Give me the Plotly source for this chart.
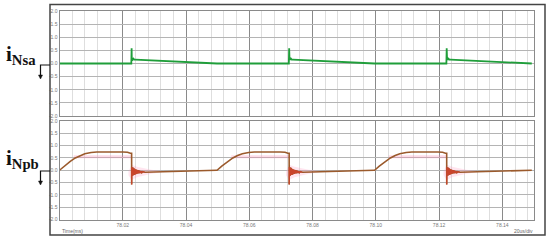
import plotly.graph_objects as go

# ---------------- data ----------------
# start of each switching cycle (ms)
cycle_start = [78.0000, 78.0498, 78.0996]

# iNpb: one cycle, time offsets (ms) from cycle start and values (A)
npb_dt = [0.0, 0.0015, 0.0034, 0.0050, 0.0065, 0.0080, 0.0100, 0.0118,
          0.0200, 0.0215, 0.0224, 0.02280, 0.02281]
npb_val = [0.0, 0.17, 0.36, 0.50, 0.60, 0.67, 0.72, 0.74,
           0.74, 0.73, 0.69, 0.69, -0.58]
# ringing right after the turn-off edge
ring_dt = [0.02285, 0.02295, 0.02305, 0.02315, 0.02325, 0.02335, 0.02345, 0.02355,
           0.02365, 0.02375, 0.02390, 0.02405, 0.02420, 0.02435, 0.02450, 0.02470,
           0.02490, 0.02510, 0.02530, 0.02550, 0.02575, 0.02600, 0.02630, 0.02660]
ring_val = [0.10, -0.24, 0.09, -0.22, 0.08, -0.21, 0.07, -0.19,
            0.06, -0.18, 0.04, -0.16, 0.03, -0.15, 0.01, -0.13,
            0.00, -0.12, -0.02, -0.11, -0.04, -0.10, -0.06, -0.08]
tail_dt = [0.0270, 0.0497]
tail_val = [-0.08, 0.0]

# iNsa: one cycle
nsa_dt = [0.0, 0.0227, 0.0228, 0.02285, 0.0229, 0.0230, 0.0231, 0.0232,
          0.0234, 0.0236, 0.0240, 0.0470, 0.0497]
nsa_val = [0.0, 0.0, 0.58, 0.12, 0.24, 0.13, 0.21, 0.14,
           0.18, 0.15, 0.15, 0.0, 0.0]

# faint pink trace / glow in the lower channel
halo_dt = [0.0045, 0.0228]
halo_val = [0.55, 0.55]
glow_dt = [0.0218, 0.0228, 0.0245, 0.0290, 0.0340, 0.0290, 0.0245, 0.0228, 0.0218]
glow_val = [-0.05, 0.22, 0.14, 0.02, -0.05, -0.14, -0.28, -0.40, -0.20]

x_ticks = [78.02, 78.04, 78.06, 78.08, 78.10, 78.12, 78.14]
x_ticktext = ["78.02", "78.04", "78.06", "78.08", "78.10", "78.12", "78.14"]
y_ticks = [2.0, 1.5, 1.0, 0.5, 0.0, -0.5, -1.0, -1.5, -2.0]
y_ticktext = ["2.0", "1.5", "1.0", "0.5", "0.0", "-0.5", "-1.0", "-1.5", "-2.0"]

# ---------------- build series ----------------
def build(dt, val):
    xs, ys = [], []
    for s in cycle_start:
        xs += [s + d for d in dt]
        ys += list(val)
    return xs, ys

npb_x, npb_y = build(npb_dt + ring_dt + tail_dt, npb_val + ring_val + tail_val)
ringx, ringy = [], []
for s in cycle_start:
    ringx += [s + d for d in [0.02281] + ring_dt + [0.0270]] + [None]
    ringy += [-0.58] + ring_val + [-0.08] + [None]
nsa_x, nsa_y = build(nsa_dt, nsa_val)
halo_x, halo_y, glow_x, glow_y = [], [], [], []
for s in cycle_start:
    halo_x += [s + d for d in halo_dt] + [None]
    halo_y += halo_val + [None]
    glow_x += [s + d for d in glow_dt] + [None]
    glow_y += glow_val + [None]

W, H = 550, 242
fx = lambda x: x / W
fy = lambda y: 1 - y / H

fig = go.Figure()
fig.add_trace(go.Scatter(x=nsa_x, y=nsa_y, mode="lines",
                         line=dict(color="#1f9e3a", width=1.8),
                         xaxis="x", yaxis="y", showlegend=False))
fig.add_trace(go.Scatter(x=glow_x, y=glow_y, mode="lines", fill="toself",
                         fillcolor="rgba(255,150,190,0.25)",
                         line=dict(color="rgba(255,150,190,0.0)", width=0),
                         xaxis="x2", yaxis="y2", showlegend=False))
fig.add_trace(go.Scatter(x=halo_x, y=halo_y, mode="lines",
                         line=dict(color="rgba(255,140,180,0.30)", width=3),
                         xaxis="x2", yaxis="y2", showlegend=False))
fig.add_trace(go.Scatter(x=npb_x, y=npb_y, mode="lines",
                         line=dict(color="#9b5a2c", width=1.6),
                         xaxis="x2", yaxis="y2", showlegend=False))
fig.add_trace(go.Scatter(x=ringx, y=ringy, mode="lines",
                         line=dict(color="#c9452c", width=1.2),
                         xaxis="x2", yaxis="y2", showlegend=False))

xdom = [fx(59.5), fx(534)]
tickfont = dict(family="Liberation Sans", size=5, color="#777")
common_x = dict(range=[78.0, 78.15], domain=xdom, tickmode="array",
                tickvals=x_ticks, ticktext=x_ticktext, automargin=False,
                showgrid=True, gridcolor="#8a8a8a", gridwidth=1,
                minor=dict(dtick=0.004, tick0=78.0, showgrid=True,
                           gridcolor="#dedede", gridwidth=1),
                showline=True, mirror=True, linecolor="#8a8a8a", linewidth=1,
                zeroline=False, ticks="", tickfont=tickfont, ticklen=0)
common_y = dict(range=[-2.0, 2.0], tickmode="array", tickvals=y_ticks,
                ticktext=y_ticktext, showgrid=True, gridcolor="#b4b4b4",
                gridwidth=1, showline=True, mirror=True, linecolor="#8a8a8a",
                linewidth=1, zeroline=False, ticks="", tickfont=tickfont,
                automargin=False)

fig.update_layout(
    width=W, height=H, autosize=False,
    margin=dict(l=0, r=0, t=0, b=0, pad=0),
    paper_bgcolor="white", plot_bgcolor="white",
    xaxis=dict(common_x, anchor="y", showticklabels=False),
    yaxis=dict(common_y, domain=[fy(116), fy(11)], anchor="x"),
    xaxis2=dict(common_x, anchor="y2", showticklabels=True),
    yaxis2=dict(common_y, domain=[fy(219.5), fy(121)], anchor="x2"),
)

shapes = [
    dict(type="rect", xref="paper", yref="paper", x0=fx(50), x1=fx(545),
         y0=fy(235), y1=fy(4.5), line=dict(color="#444", width=1.5)),
]
# arrows beside the labels
for y0, y1 in [(65, 77), (171, 183)]:
    shapes.append(dict(type="path", xref="paper", yref="paper",
                       path=f"M {fx(50)},{fy(y0)} L {fx(40.5)},{fy(y0)} L {fx(40.5)},{fy(y1)}",
                       line=dict(color="#111", width=1.2)))
    shapes.append(dict(type="path", xref="paper", yref="paper",
                       path=f"M {fx(38.5)},{fy(y1-2)} L {fx(42.5)},{fy(y1-2)} L {fx(40.5)},{fy(y1+2)} Z",
                       fillcolor="#111", line=dict(color="#111", width=0.5)))
fig.update_layout(shapes=shapes)

lab_font = dict(family="Liberation Serif", size=21, color="#111")
fig.add_annotation(xref="paper", yref="paper", x=fx(4), y=fy(55),
                   xanchor="left", yanchor="middle", showarrow=False,
                   text="<b>i<sub>Nsa</sub></b>", font=lab_font)
fig.add_annotation(xref="paper", yref="paper", x=fx(4), y=fy(159),
                   xanchor="left", yanchor="middle", showarrow=False,
                   text="<b>i<sub>Npb</sub></b>", font=lab_font)
small = dict(family="Liberation Sans", size=5, color="#666")
fig.add_annotation(xref="paper", yref="paper", x=fx(60), y=fy(231),
                   xanchor="left", yanchor="middle", showarrow=False,
                   text="Time(ms)", font=small)
fig.add_annotation(xref="paper", yref="paper", x=fx(535), y=fy(231),
                   xanchor="right", yanchor="middle", showarrow=False,
                   text="20us/div", font=small)

fig.write_html("out.html", config={"displayModeBar": False},
               post_script="document.body.style.margin='0';")
